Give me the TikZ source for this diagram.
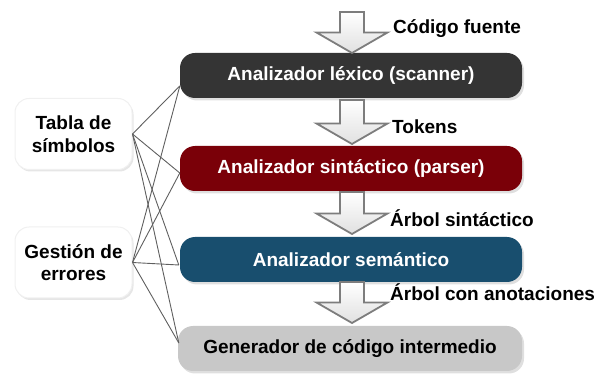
\documentclass[tikz,border=0pt]{standalone}
\usepackage{fontspec}
\setmainfont{Liberation Sans}
\usetikzlibrary{shadows,calc}
\definecolor{cdark}{RGB}{52,52,52}
\definecolor{cmaroon}{RGB}{122,0,8}
\definecolor{cblue}{RGB}{24,78,110}
\definecolor{cgrey}{RGB}{200,200,200}
\definecolor{cline}{RGB}{95,95,95}
\definecolor{carrow}{RGB}{125,125,125}
\begin{document}
\begin{tikzpicture}[x=1pt,y=-1pt,
  font=\fontsize{19}{22.5}\selectfont\bfseries,
  stage/.style={rounded corners=15pt, minimum width=342pt, minimum height=45pt,
    inner sep=0pt, text=white,
    drop shadow={opacity=0.25, shadow xshift=2pt, shadow yshift=-2.5pt}},
  sidebox/.style={rounded corners=14pt, fill=white, draw=black!6, line width=1pt,
    minimum width=117pt, minimum height=71pt,
    inner sep=0pt, align=center, text=black,
    drop shadow={opacity=0.2, shadow xshift=1.5pt, shadow yshift=-2pt}},
  lbl/.style={anchor=west, inner sep=0pt, text=black},
  fan/.style={draw=cline, line width=0.9pt},
  blockarrow/.style={draw=carrow, line width=1.8pt, line join=miter,
    top color=white, bottom color=black!12}
]
\useasboundingbox (0,0) rectangle (595,374);

% stages
\node[stage, fill=cdark]   (b1) at (351,75.5)  {Analizador léxico (scanner)};
\node[stage, fill=cmaroon] (b2) at (351,168.5) {Analizador sintáctico (parser)};
\node[stage, fill=cblue]   (b3) at (351,259.5) {Analizador semántico};
\node[stage, fill=cgrey, text=black, minimum width=344pt] (b4) at (350,348.5) {Generador de código intermedio};

% side boxes
\node[sidebox] (tabla) at (73.5,134) {Tabla de\\símbolos};
\node[sidebox] (gest)  at (73.5,262.5) {Gestión de\\errores};

% fan connection points
\coordinate (e1) at ($(b1.west)+(0,10.5)$);
\coordinate (e2) at ($(b2.west)+(0,4.5)$);
\coordinate (e3) at ($(b3.west)+(-1,5.5)$);
\coordinate (e4) at ($(b4.west)+(1,-5.5)$);
\foreach \t in {e1,e2,e3,e4}{
  \draw[fan] (tabla.east) -- (\t);
  \draw[fan] (gest.east) -- (\t);
}

% block arrows
\newcommand\flowarrow[3]{% x, shaft top, tip
  \path[blockarrow] (#1-12,#2) -- (#1+12,#2) -- (#1+12,#3-20.5) -- (#1+35.5,#3-20.5)
    -- (#1,#3) -- (#1-35.5,#3-20.5) -- (#1-12,#3-20.5) -- cycle;}
\flowarrow{352}{12}{53}
\flowarrow{352}{100}{144}
\flowarrow{352}{192}{234}
\flowarrow{352}{282}{323}

% labels
\node[lbl] (l1) at (393,29)  {Código fuente};
\node[lbl] (l2) at (392,127) {Tokens};
\node[lbl] (l3) at (390,218) {Árbol sintáctico};
\node[lbl] (l4) at (390,292) {Árbol con anotaciones};
\end{tikzpicture}
\end{document}
